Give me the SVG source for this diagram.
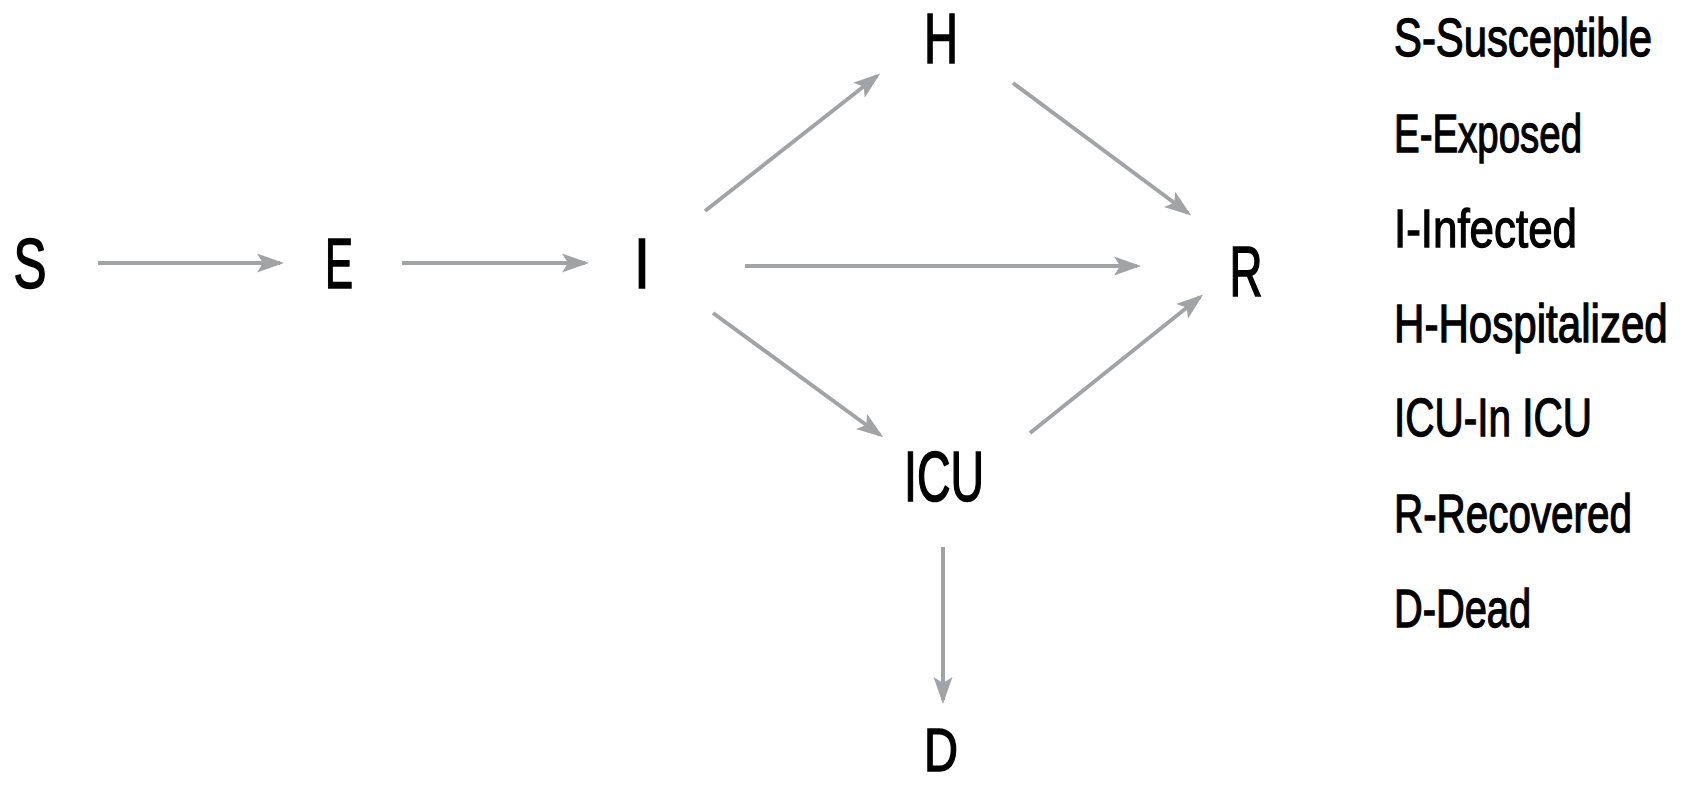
<svg xmlns="http://www.w3.org/2000/svg" width="1688" height="785" viewBox="0 0 1688 785">
<style>
.node{font-family:"Liberation Sans",Arial,sans-serif;font-size:70px;fill:#000;stroke:#000;stroke-width:1.6;text-anchor:middle}
.leg{font-family:"Liberation Sans",Arial,sans-serif;font-size:54px;fill:#000;stroke:#000;stroke-width:1.3}
.edge{stroke:#a2a3a5;stroke-width:4;fill:none;marker-end:url(#ah)}
</style>
<defs>
<marker id="ah" markerUnits="userSpaceOnUse" markerWidth="28" markerHeight="22" viewBox="0 0 28 22" refX="23" refY="11" orient="auto">
<path d="M0,1.5 L27,11 L0,20.5 L6,11 Z" fill="#a2a3a5"/>
</marker>
</defs>
<rect width="1688" height="785" fill="#fff"/>
<g id="connectors">
<line class="edge" x1="98" y1="263" x2="280" y2="263"/>
<line class="edge" x1="402" y1="263" x2="585" y2="263"/>
<line class="edge" x1="745" y1="266" x2="1137" y2="266"/>
<line class="edge" x1="705" y1="211" x2="877" y2="76"/>
<line class="edge" x1="1013" y1="83" x2="1188" y2="213"/>
<line class="edge" x1="713" y1="313" x2="880" y2="435"/>
<line class="edge" x1="1030" y1="433" x2="1200" y2="297"/>
<line class="edge" x1="943" y1="547" x2="943" y2="700"/>
</g>
<g id="node-S"><text class="node" transform="translate(30,288) scale(0.707,1)">S</text></g>
<g id="node-E"><text class="node" transform="translate(339,288) scale(0.6,1)">E</text></g>
<g id="node-I"><text class="node" transform="translate(642,288) scale(0.82,1)">I</text></g>
<g id="node-H"><text class="node" transform="translate(941,63) scale(0.673,1)">H</text></g>
<g id="node-R"><text class="node" transform="translate(1246,296) scale(0.653,1)">R</text></g>
<g id="node-ICU"><text class="node" transform="translate(944,501) scale(0.664,1)">ICU</text></g>
<g id="node-D"><text class="node" style="font-size:62px" transform="translate(941,771) scale(0.76,1)">D</text></g>
<g id="legend">
<text class="leg" transform="translate(1394,56) scale(0.7745,1)">S-Susceptible</text>
<text class="leg" transform="translate(1394,152) scale(0.712,1)">E-Exposed</text>
<text class="leg" transform="translate(1394,247) scale(0.813,1)">I-Infected</text>
<text class="leg" transform="translate(1394,342) scale(0.78,1)">H-Hospitalized</text>
<text class="leg" transform="translate(1394,436) scale(0.75,1)">ICU-In ICU</text>
<text class="leg" transform="translate(1394,532) scale(0.748,1)">R-Recovered</text>
<text class="leg" transform="translate(1394,627) scale(0.737,1)">D-Dead</text>
</g>
</svg>
